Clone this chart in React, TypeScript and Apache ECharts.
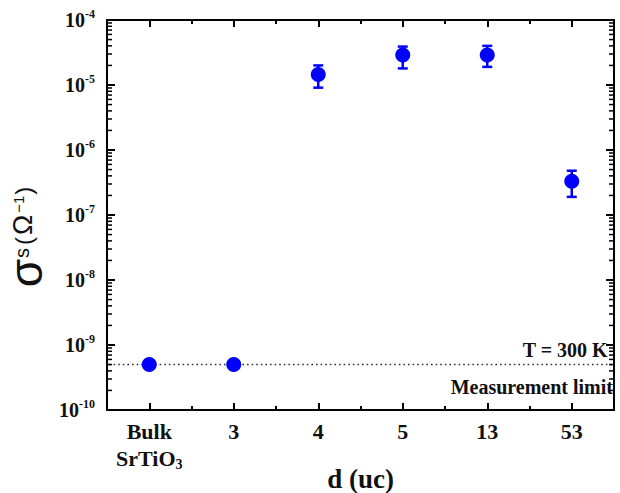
import React, { useEffect, useRef } from "react";
import * as echarts from "echarts";

const categories = ["Bulk\nSrTiO{sub|3}", "3", "4", "5", "13", "53"];
const sigmaValues = [5e-10, 5e-10, 1.45e-5, 2.9e-5, 2.9e-5, 3.3e-7];
const errIndex = [2, 3, 4, 5];
const errLow = [9.1e-6, 1.8e-5, 1.9e-5, 1.9e-7];
const errHigh = [2.0e-5, 3.9e-5, 4.0e-5, 4.8e-7];
const measurementLimit = 5e-10;
const yMin = 1e-10;
const yMax = 1e-4;

const serif = "'Liberation Serif', 'Times New Roman', serif";
const sans = "'Liberation Sans', Arial, sans-serif";

export default function App() {
  const ref = useRef<HTMLDivElement>(null);
  useEffect(() => {
    if (!ref.current) return;
    const chart = echarts.init(ref.current, null, { renderer: "svg" });

    const minorTicks: number[][] = [];
    for (let e = -10; e < -4; e++) {
      for (let k = 2; k <= 9; k++) {
        const v = k * Math.pow(10, e);
        minorTicks.push([0, v, 0]);
        minorTicks.push([0, v, 1]);
      }
    }

    const errData = errIndex.map((idx, i) => [idx, errLow[i], errHigh[i]]);

    const catAxisBase = {
      type: "category" as const,
      data: categories,
      gridIndex: 0,
      boundaryGap: true,
      axisLine: { show: true, lineStyle: { color: "#000", width: 2 } },
      splitLine: { show: false },
    };

    const option: any = {
      animation: false,
      grid: { left: 107, top: 20, right: 6, bottom: 83, containLabel: false, outerBoundsMode: "none" },
      xAxis: [
        {
          ...catAxisBase,
          position: "bottom",
          axisTick: { show: true, inside: true, alignWithLabel: true, length: 7, lineStyle: { color: "#000", width: 2 } },
          axisLabel: {
            interval: 0,
            color: "#111",
            fontFamily: serif,
            fontWeight: "bold",
            fontSize: 22,
            margin: 8,
            lineHeight: 27,
            rich: {
              sub: { fontFamily: serif, fontWeight: "bold", fontSize: 14, lineHeight: 27, padding: [12, 0, 0, 0] },
            },
          },
          name: "d (uc)",
          nameLocation: "middle",
          nameGap: 56,
          nameMoveOverlap: false,
          nameTextStyle: { color: "#111", fontFamily: serif, fontWeight: "bold", fontSize: 27, lineHeight: 26 },
        },
        {
          ...catAxisBase,
          position: "bottom",
          axisLine: { show: false },
          axisTick: { show: true, inside: true, alignWithLabel: false, length: 4, interval: 0, lineStyle: { color: "#000", width: 2 } },
          axisLabel: { show: false },
        },
        {
          ...catAxisBase,
          position: "top",
          axisTick: { show: true, inside: true, alignWithLabel: true, length: 7, interval: 0, lineStyle: { color: "#000", width: 2 } },
          axisLabel: { show: false },
        },
        {
          ...catAxisBase,
          position: "top",
          axisLine: { show: false },
          axisTick: { show: true, inside: true, alignWithLabel: false, length: 4, interval: 0, lineStyle: { color: "#000", width: 2 } },
          axisLabel: { show: false },
        },
      ],
      yAxis: [
        {
          type: "log",
          logBase: 10,
          min: yMin,
          max: yMax,
          position: "left",
          axisLine: { show: true, lineStyle: { color: "#000", width: 2 } },
          axisTick: { show: true, inside: true, length: 8, lineStyle: { color: "#000", width: 2 } },
          splitLine: { show: false },
          axisLabel: {
            margin: 12,
            color: "#111",
            fontFamily: serif,
            fontWeight: "bold",
            fontSize: 20,
            formatter: (v: number) => "10{sup|" + Math.round(Math.log10(v)) + "}",
            rich: {
              sup: { fontFamily: serif, fontWeight: "bold", fontSize: 12, color: "#111", padding: [0, 0, 12, 0] },
            },
          },
          name: "{a|σ}{b|s}{c|(}{d|Ω}{e|−1}{c|)}",
          nameLocation: "middle",
          nameRotate: 90,
          nameGap: 64,
          nameMoveOverlap: false,
          nameTextStyle: {
            color: "#111",
            padding: [0, 44, 0, 0],
            rich: {
              a: { fontFamily: sans, fontSize: 46, lineHeight: 34, color: "#111" },
              b: { fontFamily: sans, fontSize: 20, color: "#111", padding: [0, 3, 8, 1] },
              c: { fontFamily: sans, fontSize: 24, color: "#111", padding: [0, 0, 6, 0] },
              d: { fontFamily: sans, fontSize: 27, color: "#111", padding: [0, 2, 6, 2] },
              e: { fontFamily: sans, fontSize: 15, color: "#111", padding: [0, 1, 16, 0] },
            },
          },
        },
        {
          type: "log",
          logBase: 10,
          min: yMin,
          max: yMax,
          position: "right",
          axisLine: { show: true, lineStyle: { color: "#000", width: 2 } },
          axisTick: { show: true, inside: true, length: 8, lineStyle: { color: "#000", width: 2 } },
          splitLine: { show: false },
          axisLabel: { show: false },
        },
      ],
      series: [
        {
          type: "custom",
          xAxisIndex: 0,
          yAxisIndex: 0,
          silent: true,
          data: minorTicks,
          renderItem: (params: any, api: any) => {
            const cs = params.coordSys;
            const y = api.coord([0, api.value(1)])[1];
            const side = api.value(2);
            const x0 = side === 0 ? cs.x : cs.x + cs.width;
            const x1 = side === 0 ? cs.x + 5 : cs.x + cs.width - 5;
            return {
              type: "line",
              shape: { x1: x0, y1: y, x2: x1, y2: y },
              style: { stroke: "#000", lineWidth: 1.5 },
            };
          },
          z: 3,
        },
        {
          type: "custom",
          xAxisIndex: 0,
          yAxisIndex: 0,
          silent: true,
          data: [[0, measurementLimit]],
          renderItem: (params: any, api: any) => {
            const cs = params.coordSys;
            const y = api.coord([0, api.value(1)])[1];
            return {
              type: "line",
              shape: { x1: cs.x + 2, y1: y, x2: cs.x + cs.width - 2, y2: y },
              style: { stroke: "#333", lineWidth: 1.6, lineDash: [1.6, 3] },
            };
          },
          z: 2,
        },
        {
          type: "custom",
          xAxisIndex: 0,
          yAxisIndex: 0,
          data: errData,
          renderItem: (params: any, api: any) => {
            const lo = api.coord([api.value(0), api.value(1)]);
            const hi = api.coord([api.value(0), api.value(2)]);
            const cap = 5;
            const style = { stroke: "#0000ff", lineWidth: 2.5 };
            return {
              type: "group",
              children: [
                { type: "line", shape: { x1: lo[0], y1: lo[1], x2: hi[0], y2: hi[1] }, style },
                { type: "line", shape: { x1: lo[0] - cap, y1: lo[1], x2: lo[0] + cap, y2: lo[1] }, style },
                { type: "line", shape: { x1: hi[0] - cap, y1: hi[1], x2: hi[0] + cap, y2: hi[1] }, style },
              ],
            };
          },
          z: 4,
        },
        {
          type: "scatter",
          xAxisIndex: 0,
          yAxisIndex: 0,
          data: sigmaValues,
          symbol: "circle",
          symbolSize: 15,
          itemStyle: { color: "#0000ff", opacity: 1 },
          z: 5,
        },
      ],
      graphic: [
        {
          type: "text",
          right: 12,
          top: 340,
          style: { text: "T = 300 K", fill: "#111", font: "bold 20px " + serif },
        },
        {
          type: "text",
          right: 7,
          top: 377,
          style: { text: "Measurement limit", fill: "#111", font: "bold 20px " + serif },
        },
      ],
    };
    chart.setOption(option);
    return () => chart.dispose();
  }, []);
  return <div ref={ref} style={{ width: 620, height: 493, position: "absolute", left: 0, top: 0 }} />;
}
